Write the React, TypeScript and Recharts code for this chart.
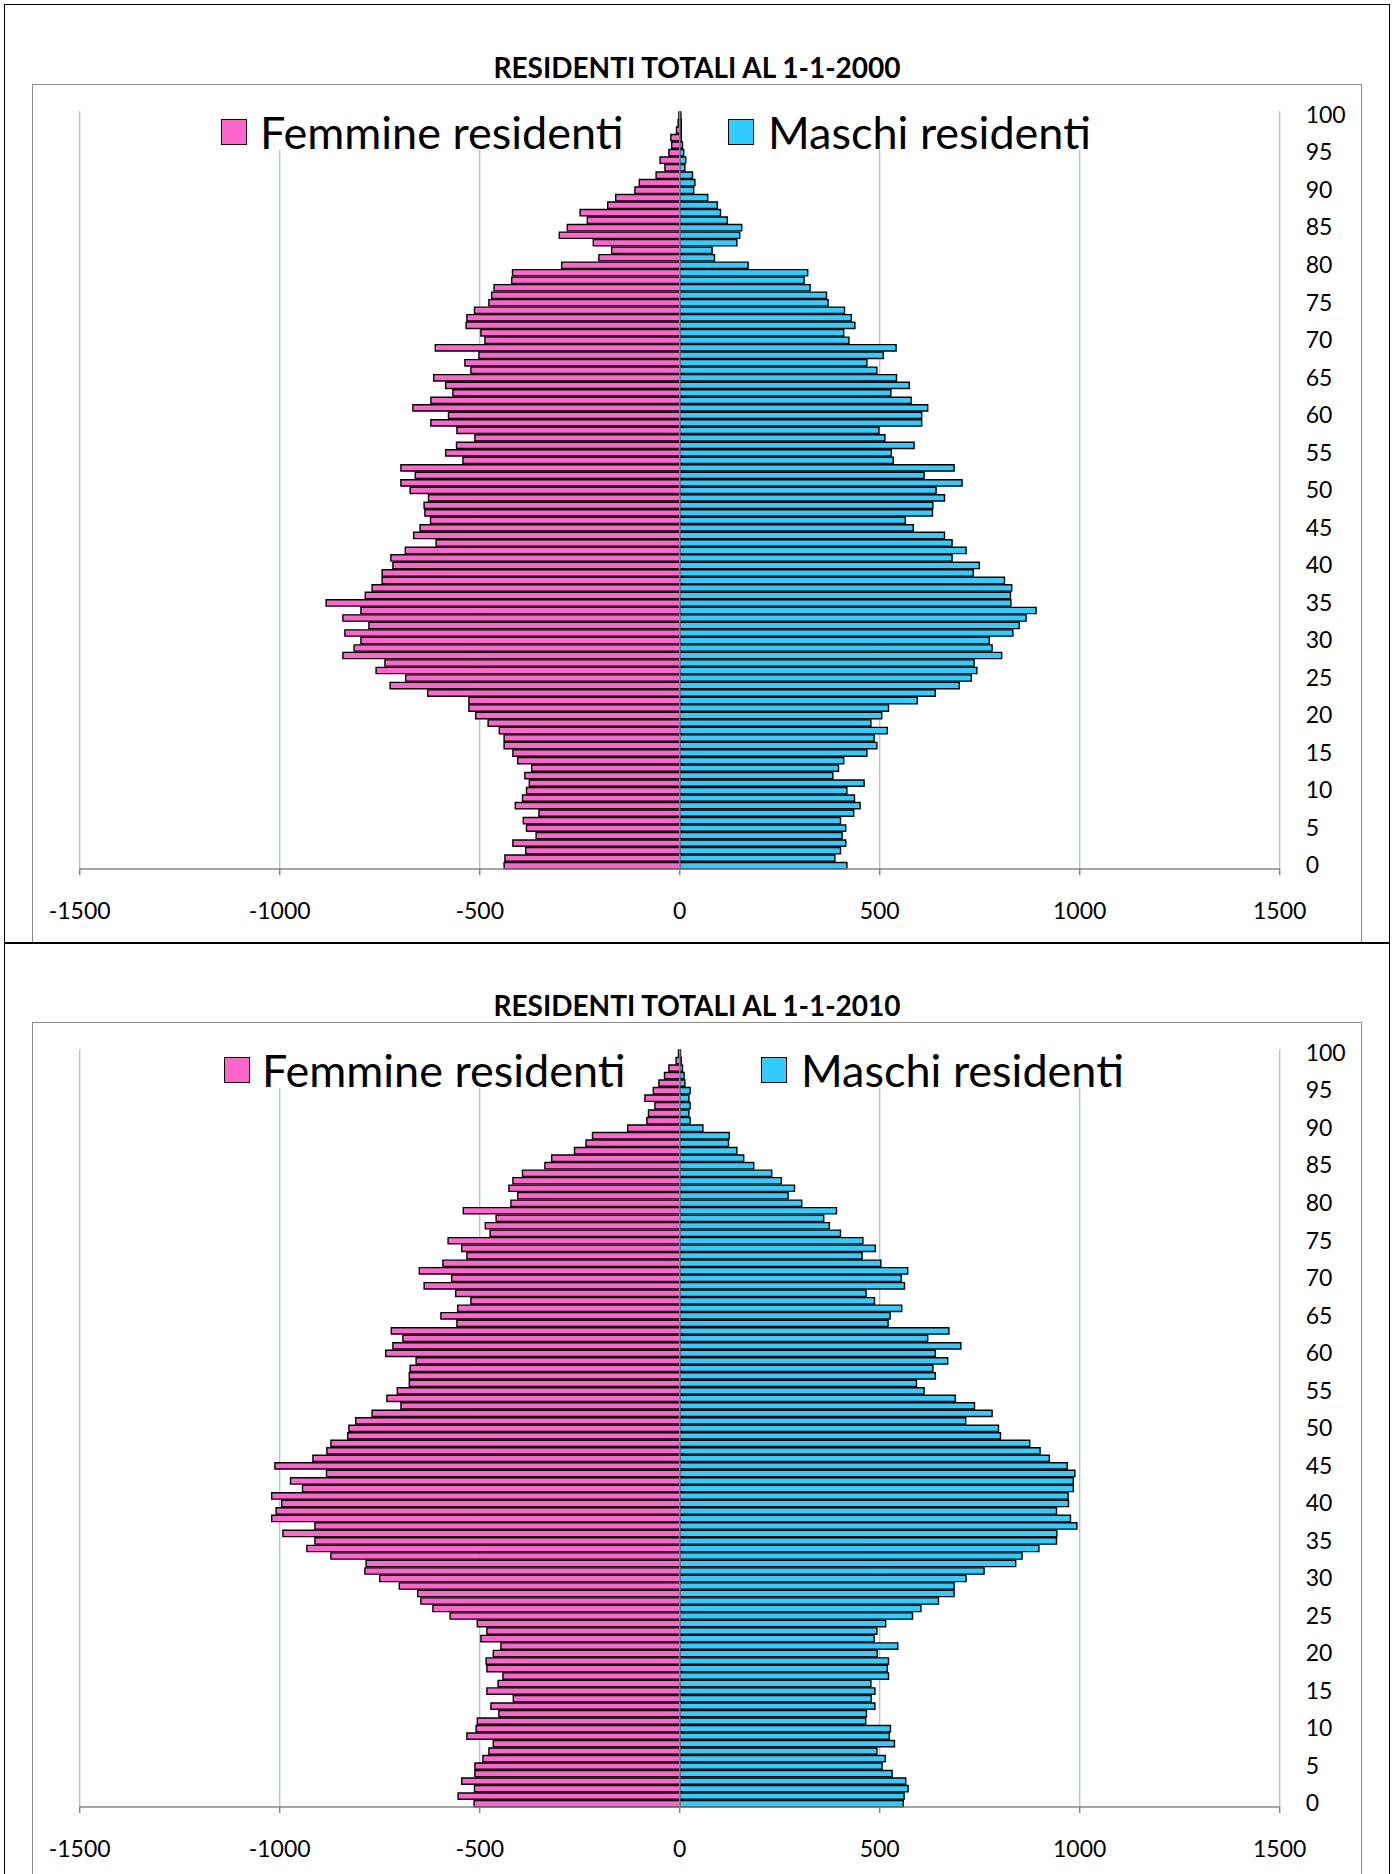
import React from 'react';
import { BarChart, Bar, XAxis, YAxis, CartesianGrid, ReferenceLine } from 'recharts';

// Age categories 0..100
const AGES: number[] = Array.from({ length: 101 }, (_, i) => i);
const X_TICKS = [-1500, -1000, -500, 0, 500, 1000, 1500];

// 1-1-2000, index = age
const F2000 = [439, 437, 385, 417, 359, 383, 391, 352, 411, 393, 383, 376, 387, 370, 405, 417, 439, 439, 451, 479,
  510, 527, 527, 630, 724, 685, 759, 737, 842, 814, 797, 837, 777, 842, 797, 884, 786, 769, 744, 744,
  717, 722, 686, 609, 665, 649, 623, 637, 639, 628, 674, 697, 661, 697, 542, 585, 558, 512, 557, 622,
  578, 667, 622, 567, 585, 615, 522, 537, 502, 611, 487, 497, 534, 532, 513, 477, 470, 464, 420, 418,
  295, 202, 170, 216, 301, 281, 231, 249, 180, 160, 112, 101, 59, 37, 49, 27, 20, 22, 8, 4, 2];
const M2000 = [418, 388, 402, 415, 406, 415, 402, 435, 451, 437, 418, 461, 383, 397, 410, 468, 493, 486, 519, 478,
  505, 522, 594, 639, 699, 729, 743, 736, 805, 781, 774, 833, 849, 866, 891, 828, 827, 830, 812, 734,
  749, 681, 716, 681, 662, 584, 564, 632, 633, 662, 641, 706, 611, 686, 534, 529, 586, 513, 498, 605,
  605, 620, 579, 528, 574, 542, 493, 468, 509, 541, 423, 410, 438, 429, 412, 371, 367, 326, 311, 320,
  171, 87, 81, 143, 150, 155, 119, 102, 94, 70, 35, 38, 32, 13, 15, 10, 7, 4, 4, 4, 3];

// 1-1-2010, index = age
const F2010 = [514, 554, 513, 545, 512, 512, 492, 477, 466, 532, 509, 506, 452, 472, 416, 482, 454, 442, 482, 484,
  466, 447, 497, 482, 506, 574, 617, 647, 655, 701, 750, 787, 784, 872, 932, 912, 992, 912, 1020, 1009,
  995, 1020, 943, 973, 883, 1012, 917, 882, 872, 830, 827, 810, 769, 697, 732, 706, 676, 676, 674, 659,
  735, 717, 692, 721, 557, 597, 555, 522, 560, 639, 570, 651, 592, 532, 545, 579, 474, 486, 459, 541,
  422, 405, 427, 417, 393, 337, 320, 263, 234, 218, 130, 82, 78, 62, 87, 66, 52, 38, 27, 9, 3];
const M2010 = [559, 561, 571, 565, 531, 506, 514, 493, 537, 524, 527, 465, 467, 488, 479, 488, 478, 522, 519, 522,
  494, 545, 486, 493, 515, 582, 603, 647, 686, 686, 716, 761, 840, 856, 898, 942, 943, 993, 977, 942,
  972, 971, 984, 984, 988, 969, 924, 901, 875, 802, 797, 715, 781, 737, 689, 611, 592, 639, 633, 670,
  639, 703, 620, 673, 521, 526, 555, 487, 466, 562, 554, 570, 503, 456, 489, 458, 402, 374, 360, 392,
  305, 271, 287, 254, 230, 185, 160, 143, 122, 124, 58, 26, 23, 26, 23, 26, 13, 11, 7, 4, 2];

const TITLES = ['RESIDENTI TOTALI AL 1-1-2000', 'RESIDENTI TOTALI AL 1-1-2010'];
const SERIES_NAMES = ['Femmine residenti', 'Maschi residenti'];
const COLORS = { f: '#FF66CC', m: '#33CCFF' };

const W = 1395;
const PLOT_LEFT = 79.7;
const PLOT_RIGHT = 1279.7;
const YAXIS_W = 60;
const XAXIS_H = 50;
const FONT = 'Lato, "Open Sans", sans-serif';

type Cfg = {
  top: number; height: number; plotTop: number; plotBottom: number;
  titleY: number; legendY: number; fSqX: number; fTxtX: number; mSqX: number; mTxtX: number;
};

const TOP_CFG: Cfg = { top: 0, height: 943, plotTop: 111, plotBottom: 869, titleY: 67, legendY: 131.5, fSqX: 221, fTxtX: 260, mSqX: 728, mTxtX: 768 };
const BOT_CFG: Cfg = { top: 943, height: 931, plotTop: 1049, plotBottom: 1807, titleY: 1005, legendY: 1069.5, fSqX: 224, fTxtX: 262, mSqX: 761, mTxtX: 801 };

function Panel({ cfg, female, male, title }: { cfg: Cfg; female: number[]; male: number[]; title: string }) {
  const data = AGES.slice().reverse().map((a) => ({ age: String(a), f: -female[a], m: male[a] }));
  const tickStyle = { fill: '#000', fontSize: 23, fontFamily: FONT };
  const sq = 26;
  return (
    <>
      <div style={{ position: 'absolute', left: 0, top: cfg.top, width: W, height: cfg.height }}>
        <BarChart
          width={W}
          height={cfg.height}
          data={data}
          layout="vertical"
          stackOffset="sign"
          barCategoryGap={0}
          barSize={6.3}
          margin={{
            top: cfg.plotTop - cfg.top,
            bottom: cfg.top + cfg.height - cfg.plotBottom - XAXIS_H,
            left: PLOT_LEFT,
            right: W - PLOT_RIGHT - YAXIS_W,
          }}
        >
          <CartesianGrid horizontal={false} stroke="#A9BFE6" strokeWidth={1.3} />
          <XAxis
            type="number"
            domain={[-1500, 1500]}
            ticks={X_TICKS}
            interval={0}
            height={XAXIS_H}
            allowDataOverflow
            axisLine={{ stroke: '#868686', strokeWidth: 1.5 }}
            tickLine={{ stroke: '#868686', strokeWidth: 1.5 }}
            tickSize={6}
            tickMargin={28}
            tick={tickStyle}
          />
          <YAxis
            type="category"
            dataKey="age"
            orientation="right"
            width={YAXIS_W}
            axisLine={false}
            tickLine={false}
            tickSize={0}
            tickMargin={26}
            interval={4}
            tick={tickStyle}
          />
          <ReferenceLine x={0} stroke="#868686" strokeWidth={1.5} />
          <Bar dataKey="f" name={SERIES_NAMES[0]} stackId="a" fill={COLORS.f} stroke="#000" strokeWidth={1.4} isAnimationActive={false} />
          <Bar dataKey="m" name={SERIES_NAMES[1]} stackId="a" fill={COLORS.m} stroke="#000" strokeWidth={1.4} isAnimationActive={false} />
        </BarChart>
      </div>
      {/* legend background (hides gridlines behind legend) */}
      <div style={{ position: 'absolute', left: 85, top: cfg.plotTop, width: 565, height: 39, background: '#fff' }} />
      <div style={{ position: 'absolute', left: 705, top: cfg.plotTop, width: 567, height: 39, background: '#fff' }} />
      {/* legend */}
      <div style={{ position: 'absolute', left: cfg.fSqX, top: cfg.legendY - sq / 2, width: sq, height: sq, boxSizing: 'border-box', border: '1.5px solid #000', background: COLORS.f }} />
      <div style={{ position: 'absolute', left: cfg.fTxtX, top: cfg.legendY - 30, height: 60, lineHeight: '60px', fontSize: 45, fontFamily: FONT, color: '#000', whiteSpace: 'nowrap' }}>{SERIES_NAMES[0]}</div>
      <div style={{ position: 'absolute', left: cfg.mSqX, top: cfg.legendY - sq / 2, width: sq, height: sq, boxSizing: 'border-box', border: '1.5px solid #000', background: COLORS.m }} />
      <div style={{ position: 'absolute', left: cfg.mTxtX, top: cfg.legendY - 30, height: 60, lineHeight: '60px', fontSize: 45, fontFamily: FONT, color: '#000', whiteSpace: 'nowrap' }}>{SERIES_NAMES[1]}</div>
      {/* title */}
      <div style={{ position: 'absolute', left: 0, width: 1394, top: cfg.titleY - 20, height: 40, lineHeight: '40px', textAlign: 'center', fontSize: 28, fontWeight: 700, fontFamily: FONT, color: '#000' }}>{title}</div>
    </>
  );
}

export default function App() {
  return (
    <div style={{ position: 'absolute', left: 0, top: 0, width: W, height: 1874, background: '#fff', overflow: 'hidden' }}>
      <Panel cfg={TOP_CFG} female={F2000} male={M2000} title={TITLES[0]} />
      <Panel cfg={BOT_CFG} female={F2010} male={M2010} title={TITLES[1]} />
      {/* inner gray frames */}
      <div style={{ position: 'absolute', left: 32, top: 84, width: 1330, height: 860, boxSizing: 'border-box', border: '1.5px solid #8C8C8C', pointerEvents: 'none' }} />
      <div style={{ position: 'absolute', left: 32, top: 1022, width: 1330, height: 900, boxSizing: 'border-box', border: '1.5px solid #8C8C8C', pointerEvents: 'none' }} />
      {/* outer black frames */}
      <div style={{ position: 'absolute', left: 4, top: 4, width: 1386, height: 940, boxSizing: 'border-box', border: '1.5px solid #000', pointerEvents: 'none' }} />
      <div style={{ position: 'absolute', left: 4, top: 942, width: 1386, height: 1000, boxSizing: 'border-box', border: '1.5px solid #000', pointerEvents: 'none' }} />
    </div>
  );
}
